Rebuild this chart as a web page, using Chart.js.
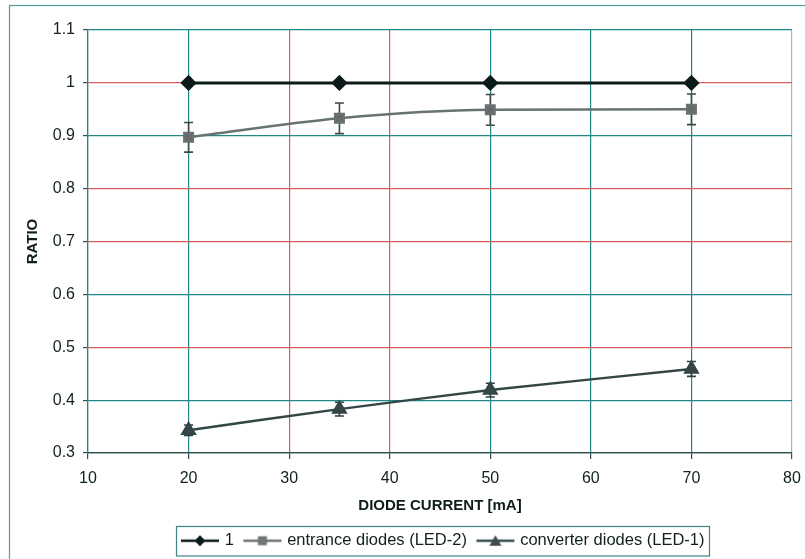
<!DOCTYPE html>
<html>
<head>
<meta charset="utf-8">
<script src="https://cdn.jsdelivr.net/npm/chart.js@4/dist/chart.umd.min.js"></script>
<style>body{margin:0;background:#fff}</style>
</head>
<body>
<canvas id="ratioChart" width="805" height="559"></canvas>
<script>
// values
var current = [20, 35, 50, 70];
var ref1 = [1, 1, 1, 1];
var entrance = [0.897, 0.933, 0.949, 0.950];
var entranceErr = [0.028, 0.029, 0.029, 0.029];
var converter = [0.343, 0.383, 0.419, 0.459];
var converterErr = [0.010, 0.013, 0.013, 0.014];

var xTicks = [10, 20, 30, 40, 50, 60, 70, 80];
var yTicks = [0.3, 0.4, 0.5, 0.6, 0.7, 0.8, 0.9, 1.0, 1.1];
var yTickLabels = ['0.3', '0.4', '0.5', '0.6', '0.7', '0.8', '0.9', '1', '1.1'];

var RED = '#d45c5c', TEAL = '#1f8787';
var xGridColors = [TEAL, TEAL, RED, RED, TEAL, TEAL, TEAL, '#8fc2c2'];
var yGridColors = ['#2f4f4f', TEAL, RED, TEAL, RED, RED, TEAL, RED, TEAL];

function pts(vals) {
    return current.map(function (c, i) { return { x: c, y: vals[i] }; });
}

// little line+marker picture for the legend
function legendSymbol(color, lw, style) {
    var c = document.createElement('canvas');
    c.width = 40; c.height = 14;
    var g = c.getContext('2d');
    g.strokeStyle = color; g.fillStyle = color; g.lineWidth = lw;
    g.beginPath(); g.moveTo(1, 7); g.lineTo(39, 7); g.stroke();
    g.beginPath();
    if (style == 'diamond') { g.moveTo(20, 1.5); g.lineTo(25.5, 7); g.lineTo(20, 12.5); g.lineTo(14.5, 7); }
    else if (style == 'square') { g.rect(15.5, 2.5, 9, 9); }
    else { g.moveTo(20, 1.5); g.lineTo(26, 12); g.lineTo(14, 12); }
    g.closePath(); g.fill();
    return c;
}

var frame = {
    id: 'frame',
    afterLayout: function (chart) {
        // center the legend under the plot area, not the whole canvas
        chart.legend.left = chart.chartArea.left + 4;
        chart.legend.right = chart.chartArea.right + 4;
    },
    beforeDraw: function (chart) {
        var ctx = chart.ctx;
        ctx.save();
        ctx.strokeStyle = '#4f9d9d';
        ctx.lineWidth = 1.2;
        ctx.strokeRect(9.5, 5.5, 810, 570);
        ctx.restore();
    },
    afterDraw: function (chart) {
        var boxes = chart.legend.legendHitBoxes;
        if (!boxes || !boxes.length) return;
        var l = boxes[0].left, r = boxes[boxes.length - 1].left + boxes[boxes.length - 1].width;
        var t = boxes[0].top, h = boxes[0].height;
        var ctx = chart.ctx;
        ctx.save();
        ctx.strokeStyle = '#3f8282';
        ctx.lineWidth = 1.2;
        ctx.strokeRect(Math.round(l) - 6.5, Math.round(t) - 6.5, r - l + 12, h + 13);
        ctx.restore();
    }
};

var errorBars = {
    id: 'errorBars',
    beforeDatasetsDraw: function (chart) {
        var ctx = chart.ctx, xs = chart.scales.x, ys = chart.scales.y;
        chart.data.datasets.forEach(function (ds) {
            if (!ds.errors) return;
            ctx.save();
            ctx.strokeStyle = ds.errorColor;
            ctx.lineWidth = 1.6;
            ds.data.forEach(function (p, j) {
                var px = xs.getPixelForValue(p.x);
                var top = ys.getPixelForValue(p.y + ds.errors[j]);
                var bot = ys.getPixelForValue(p.y - ds.errors[j]);
                ctx.beginPath();
                ctx.moveTo(px, top); ctx.lineTo(px, bot);
                ctx.moveTo(px - 4.5, top); ctx.lineTo(px + 4.5, top);
                ctx.moveTo(px - 4.5, bot); ctx.lineTo(px + 4.5, bot);
                ctx.stroke();
            });
            ctx.restore();
        });
    }
};

var canvasRatio = document.getElementById('ratioChart');
var ratioChart = new Chart(canvasRatio, {
    type: 'scatter',
    data: {
        datasets: [
            {
                label: '1',
                data: pts(ref1),
                showLine: true,
                borderColor: '#0c1a1a',
                backgroundColor: '#0c1a1a',
                borderWidth: 3,
                pointStyle: 'rectRot',
                pointRadius: 6,
                symbol: legendSymbol('#0c1a1a', 2.5, 'diamond')
            },
            {
                label: 'entrance diodes (LED-2)',
                data: pts(entrance),
                showLine: true,
                tension: 0.4,
                cubicInterpolationMode: 'monotone',
                borderColor: '#687272',
                backgroundColor: '#666a6a',
                borderWidth: 2.5,
                pointStyle: 'rect',
                pointRadius: 6,
                errors: entranceErr,
                errorColor: '#3b4848',
                symbol: legendSymbol('#6e7676', 2.5, 'square')
            },
            {
                label: 'converter diodes (LED-1)',
                data: pts(converter),
                showLine: true,
                tension: 0.2,
                borderColor: '#324646',
                backgroundColor: '#3a4646',
                borderWidth: 2.5,
                pointStyle: 'triangle',
                pointRadius: 7,
                errors: converterErr,
                errorColor: '#2f3f3f',
                symbol: legendSymbol('#3e4e4e', 2.5, 'triangle')
            }
        ]
    },
    options: {
        responsive: false,
        animation: false,
        layout: { padding: { left: 18, top: 30, right: 13, bottom: 0 } },
        plugins: {
            tooltip: { enabled: false },
            legend: {
                position: 'bottom',
                labels: {
                    usePointStyle: true,
                    pointStyleWidth: 33,
                    padding: 12,
                    color: '#122020',
                    font: { family: 'Liberation Sans', size: 16.5 },
                    generateLabels: function (chart) {
                        return chart.data.datasets.map(function (ds, i) {
                            return {
                                text: ds.label,
                                pointStyle: ds.symbol,
                                datasetIndex: i,
                                fontColor: '#122020',
                                lineWidth: 0,
                                strokeStyle: 'transparent',
                                fillStyle: 'transparent'
                            };
                        });
                    }
                }
            }
        },
        scales: {
            x: {
                type: 'linear',
                min: 10, max: 80,
                afterBuildTicks: function (s) { s.ticks = xTicks.map(function (v) { return { value: v }; }); },
                afterFit: function (s) {
                    s.height = 559 - (s.chart.legend.height || 40) - 453;
                    s.paddingRight = 0;
                },
                grid: {
                    color: function (c) { return xGridColors[c.index]; },
                    tickColor: '#2f4f4f',
                    tickLength: 6,
                    lineWidth: 1.2
                },
                border: { color: '#2f4f4f', width: 1.2 },
                ticks: {
                    padding: 10,
                    color: '#122020',
                    font: { family: 'Liberation Sans', size: 16 }
                },
                title: {
                    display: true,
                    text: 'DIODE CURRENT [mA]',
                    color: '#0f1c1c',
                    font: { family: 'Liberation Sans', size: 15, weight: 'bold' },
                    padding: { top: 10, bottom: 6 }
                }
            },
            y: {
                min: 0.3, max: 1.1,
                afterBuildTicks: function (s) { s.ticks = yTicks.map(function (v) { return { value: v }; }); },
                afterFit: function (s) { s.width = 70; },
                grid: {
                    color: function (c) { return yGridColors[c.index]; },
                    tickColor: '#2f4f4f',
                    tickLength: 5,
                    lineWidth: 1.2
                },
                border: { color: TEAL, width: 1.2 },
                ticks: {
                    padding: 8,
                    color: '#122020',
                    font: { family: 'Liberation Sans', size: 16 },
                    callback: function (v, i) { return yTickLabels[i]; }
                },
                title: {
                    display: true,
                    text: 'RATIO',
                    color: '#0f1c1c',
                    font: { family: 'Liberation Sans', size: 15, weight: 'bold' },
                    padding: { top: 6, bottom: 0 }
                }
            }
        }
    },
    plugins: [frame, errorBars]
});
</script>
</body>
</html>
